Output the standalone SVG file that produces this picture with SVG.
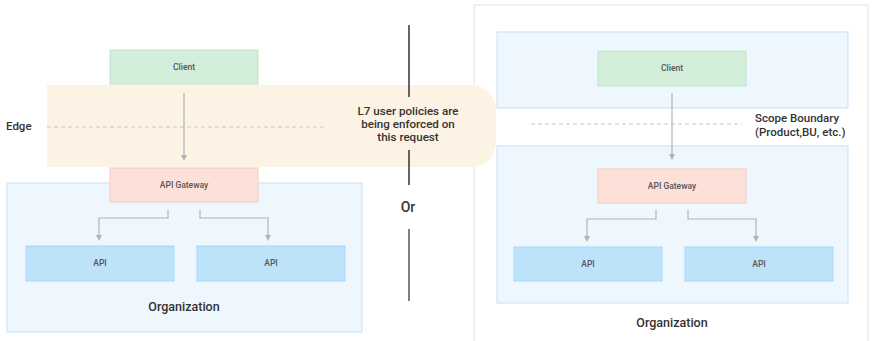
<svg xmlns="http://www.w3.org/2000/svg" width="872" height="341" viewBox="0 0 872 341">
<defs>
<style>
text{font-family:Roboto,"Liberation Sans",sans-serif;fill:#333}
.small{font-size:8.5px;fill:#555;font-weight:500}
.lbl{font-size:11.5px;font-weight:500}
.mid{font-size:11.6px;font-weight:500}
.org{fill:#eef6fe;stroke:#c6e2fa;stroke-width:1}
.client{fill:#d3efda;stroke:#bde3c7;stroke-width:1}
.gw{fill:#fde1d9;stroke:#f3cbc1;stroke-width:1}
.api{fill:#bde3fb;stroke:#a9d6f4;stroke-width:1}
.conn{fill:none;stroke:#b0b4b8;stroke-width:1.2}
.dash{fill:none;stroke:#c8c8c8;stroke-width:1;stroke-dasharray:4 3}
</style>
<marker id="ah" viewBox="0 0 6 6" refX="3" refY="3" markerWidth="6" markerHeight="6" orient="auto" markerUnits="userSpaceOnUse">
<path d="M0,0 L6,3 L0,6 z" fill="#b0b4b8"/>
</marker>
</defs>
<rect width="872" height="341" fill="#ffffff"/>

<g id="right-frame"><rect x="474" y="5" width="394" height="345" fill="#ffffff" stroke="#e2e2e2"/></g>

<g id="edge-band">
<path d="M47,85 H471 A25,25 0 0 1 496,110 V142 A25,25 0 0 1 471,167 H47 Z" fill="#fdf3e4"/>
</g>

<g id="left-org"><rect class="org" x="7" y="183" width="355" height="149"/>
<text x="184" y="311" text-anchor="middle" style="font-size:12.5px;font-weight:500">Organization</text></g>

<g id="right-scope-top"><rect class="org" x="497" y="32" width="351" height="76"/></g>
<g id="right-org"><rect class="org" x="497" y="146" width="351" height="157"/>
<text x="672" y="327" text-anchor="middle" style="font-size:12.5px;font-weight:500">Organization</text></g>

<g id="labels">
<text class="lbl" x="6" y="130">Edge</text>
<text class="mid" x="408" y="115" text-anchor="middle">L7 user policies are</text>
<text class="mid" x="408" y="128" text-anchor="middle">being enforced on</text>
<text class="mid" x="408" y="141" text-anchor="middle">this request</text>
<text x="408" y="212" text-anchor="middle" style="font-size:14px;font-weight:500">Or</text>
<text class="lbl" x="755" y="122">Scope Boundary</text>
<text class="lbl" x="755" y="136">(Product,BU, etc.)</text>
</g>

<g id="connectors">
<line x1="409" y1="25" x2="409" y2="97" stroke="#333" stroke-width="1.5"/>
<line x1="409" y1="150" x2="409" y2="185" stroke="#333" stroke-width="1.5"/>
<line x1="409" y1="229" x2="409" y2="301" stroke="#555" stroke-width="1.5"/>
<line class="dash" x1="47" y1="127" x2="327" y2="127"/>
<line class="dash" x1="531" y1="124" x2="742" y2="124"/>
<path class="conn" d="M184,93 V158" marker-end="url(#ah)"/>
<path class="conn" d="M168,210 V218 H99 V238" marker-end="url(#ah)"/>
<path class="conn" d="M200,210 V218 H268 V238" marker-end="url(#ah)"/>
<path class="conn" d="M672,93 V157" marker-end="url(#ah)"/>
<path class="conn" d="M656,210 V219 H587 V239" marker-end="url(#ah)"/>
<path class="conn" d="M688,210 V219 H756 V239" marker-end="url(#ah)"/>
</g>

<g id="client-left"><rect class="client" x="110" y="50" width="148" height="34"/><text class="small" x="184" y="70" text-anchor="middle">Client</text></g>
<g id="gateway-left"><rect class="gw" x="110" y="168" width="148" height="34"/><text class="small" x="184" y="188" text-anchor="middle">API Gateway</text></g>
<g id="api-left-1"><rect class="api" x="26" y="246" width="148" height="35"/><text class="small" x="100" y="266" text-anchor="middle">API</text></g>
<g id="api-left-2"><rect class="api" x="197" y="246" width="148" height="35"/><text class="small" x="271" y="266" text-anchor="middle">API</text></g>

<g id="client-right"><rect class="client" x="598" y="51" width="148" height="35"/><text class="small" x="672" y="71" text-anchor="middle">Client</text></g>
<g id="gateway-right"><rect class="gw" x="598" y="169" width="148" height="34"/><text class="small" x="672" y="189" text-anchor="middle">API Gateway</text></g>
<g id="api-right-1"><rect class="api" x="514" y="247" width="148" height="34"/><text class="small" x="588" y="267" text-anchor="middle">API</text></g>
<g id="api-right-2"><rect class="api" x="685" y="247" width="148" height="34"/><text class="small" x="759" y="267" text-anchor="middle">API</text></g>
</svg>
